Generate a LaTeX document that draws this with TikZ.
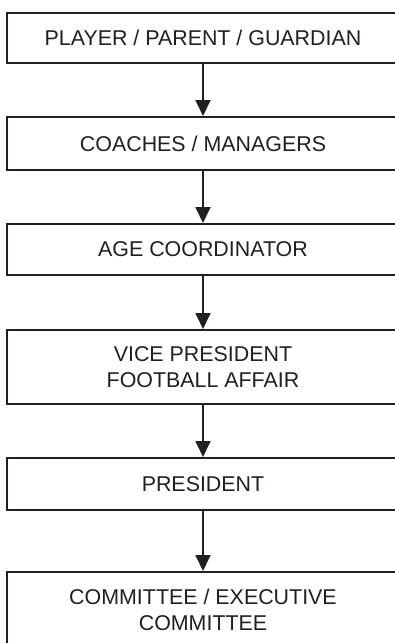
\documentclass[tikz,border=0pt]{standalone}
\usepackage{fontspec}
\setmainfont{Liberation Sans}
\usetikzlibrary{arrows.meta}
\definecolor{ink}{HTML}{231F20}
\tikzset{
  orgbox/.style={draw=ink, line width=2pt, text=ink, minimum width=392pt, inner sep=0pt,
    align=center, font=\fontsize{21.4pt}{25.7pt}\selectfont},
  link/.style={draw=ink, line width=1.8pt, -{Triangle[width=15pt,length=16pt]}}
}
\begin{document}
\begin{tikzpicture}[x=1pt,y=-1pt]
\useasboundingbox (0,0) rectangle (395,643);
\node[orgbox, minimum height=50pt] (b1) at (203,38) {PLAYER / PARENT / GUARDIAN};
\node[orgbox, minimum height=53pt] (b2) at (203,143.5) {COACHES / MANAGERS};
\node[orgbox, minimum height=51pt] (b3) at (203,249.5) {AGE COORDINATOR};
\node[orgbox, minimum height=74pt] (b4) at (203,367) {VICE PRESIDENT\\FOOTBALL AFFAIR};
\node[orgbox, minimum height=52pt] (b5) at (203,484) {PRESIDENT};
\node[orgbox, minimum height=76pt] (b6) at (203,610) {COMMITTEE / EXECUTIVE\\COMMITTEE};
\foreach \a/\b in {b1/b2,b2/b3,b3/b4,b4/b5,b5/b6}
  \draw[link] (\a.south) -- (\b.north);
\end{tikzpicture}
\end{document}
